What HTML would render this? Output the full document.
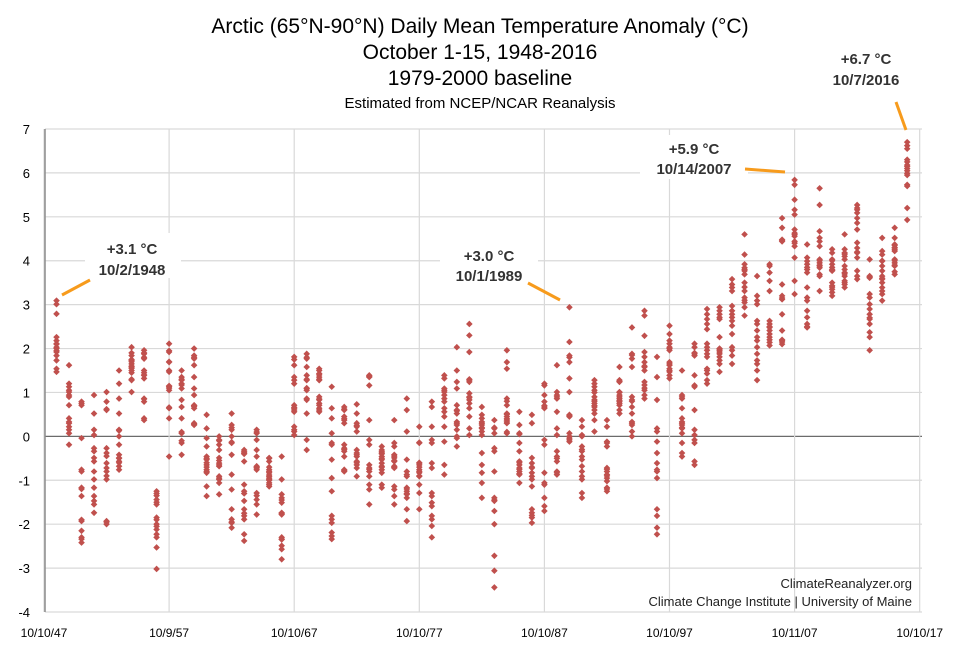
<!DOCTYPE html>
<html><head><meta charset="utf-8">
<style>
html,body{margin:0;padding:0;background:#fff;}
svg{display:block;font-family:"Liberation Sans",Arial,sans-serif;}
</style></head>
<body>
<svg id="chart" width="960" height="653" viewBox="0 0 960 653" xmlns="http://www.w3.org/2000/svg">
<g text-anchor="middle" fill="#000">
<text x="480" y="33" font-size="21">Arctic (65°N-90°N) Daily Mean Temperature Anomaly (°C)</text>
<text x="480" y="59" font-size="21">October 1-15, 1948-2016</text>
<text x="480" y="85" font-size="21">1979-2000 baseline</text>
<text x="480" y="108" font-size="15">Estimated from NCEP/NCAR Reanalysis</text>
</g>
<g id="grid"></g>
<g id="yticks" font-size="13" text-anchor="end" fill="#000"></g>
<g id="xticks" font-size="12" text-anchor="middle" fill="#000"></g>
<g id="points" fill="#c0504d"></g>
<g font-size="15" font-weight="bold" text-anchor="middle" fill="#333">
<g>
<rect x="85" y="233" width="96" height="45" fill="#fff"/>
<text x="132" y="254">+3.1 °C</text><text x="132" y="275">10/2/1948</text>
<line x1="62" y1="295" x2="90" y2="280" stroke="#f79b1c" stroke-width="3"/>
</g>
<g>
<rect x="440" y="241" width="98" height="45" fill="#fff"/>
<text x="489" y="261">+3.0 °C</text><text x="489" y="281">10/1/1989</text>
<line x1="528" y1="283" x2="560" y2="300" stroke="#f79b1c" stroke-width="3"/>
</g>
<g>
<rect x="640" y="135" width="108" height="44" fill="#fff"/>
<text x="694" y="154">+5.9 °C</text><text x="694" y="174">10/14/2007</text>
<line x1="745" y1="169" x2="785" y2="172" stroke="#f79b1c" stroke-width="3"/>
</g>
<g>
<rect x="820" y="45" width="92" height="44" fill="#fff"/>
<text x="866" y="64">+6.7 °C</text><text x="866" y="85">10/7/2016</text>
<line x1="896" y1="102" x2="906" y2="130" stroke="#f79b1c" stroke-width="3"/>
</g>
</g>
<g font-size="13" text-anchor="end" fill="#222">
<text x="912" y="588">ClimateReanalyzer.org</text>
<text x="912" y="606">Climate Change Institute | University of Maine</text>
</g>
</svg>
<script>
const firstYear = 1948;
const yTicks = [7,6,5,4,3,2,1,0,-1,-2,-3,-4];
const xTickYears = [1947,1957,1967,1977,1987,1997,2007,2017];
const xTickLabels = ["10/10/47","10/9/57","10/10/67","10/10/77","10/10/87","10/10/97","10/11/07","10/10/17"];
const anomalies = [
[3.09,3.01,2.79,2.26,2.18,2.11,2.03,2.0,1.92,1.84,1.73,1.54,1.47,2.1,1.95],
[1.62,1.2,1.13,1.01,0.94,0.71,0.41,0.33,0.22,0.07,-0.19,0.9,0.3,1.05,0.15],
[0.79,0.71,-0.04,-0.76,-1.17,-1.36,-1.93,-2.15,-2.34,-2.42,0.75,-1.2,-1.9,-2.3,-0.8],
[0.94,0.52,0.15,0.03,-0.27,-0.34,-0.49,-0.57,-0.8,-0.98,-1.17,-1.36,-1.47,-1.55,-1.74],
[1.01,0.79,0.6,-0.27,-0.38,-0.61,-0.72,-0.8,-0.98,-1.93,-2.0,-0.45,-0.9,-1.95,0.62],
[1.5,1.2,0.86,0.52,0.15,0.0,-0.19,-0.42,-0.49,-0.57,-0.68,-0.76,-0.6,-0.5,0.13],
[2.03,1.84,1.73,1.65,1.58,1.5,1.28,1.01,1.6,1.7,1.55,1.9,1.45,1.3,1.75],
[1.96,1.88,1.77,1.5,1.39,1.32,0.86,0.79,0.41,0.37,1.45,1.8,1.9,0.85,1.4],
[-1.25,-1.44,-1.55,-1.85,-2.0,-2.12,-2.23,-2.53,-3.02,-1.3,-1.5,-1.9,-2.05,-2.3,-1.35],
[2.11,1.92,1.69,1.47,1.13,1.05,0.64,0.41,-0.46,1.5,1.1,0.66,1.7,1.95,1.15],
[1.5,1.35,1.28,1.17,1.09,0.83,0.67,0.41,0.07,-0.15,-0.42,1.3,1.2,0.1,-0.1],
[2.0,1.84,1.77,1.62,1.35,1.09,0.94,0.71,0.64,0.3,0.26,1.8,0.7,0.68,0.28],
[0.49,0.18,-0.04,-0.23,-0.46,-0.53,-0.65,-0.76,-0.83,-1.14,-1.36,-0.5,-0.6,-0.7,-0.8],
[0.0,-0.08,-0.19,-0.31,-0.49,-0.61,-0.68,-0.91,-0.98,-1.06,-1.32,-0.55,-0.65,-0.95,-0.1],
[0.52,0.26,0.15,0.0,-0.15,-0.42,-0.87,-1.21,-1.66,-1.89,-1.97,-2.08,0.2,-0.13,-1.95],
[-0.31,-0.38,-0.57,-1.1,-1.25,-1.47,-1.66,-1.81,-1.89,-2.23,-2.38,-0.35,-0.4,-1.3,-1.75],
[0.15,0.07,-0.08,-0.31,-0.46,-0.68,-0.76,-1.29,-1.44,-1.55,-1.78,0.1,-0.7,-1.35,-0.72],
[-0.49,-0.57,-0.76,-0.83,-0.91,-0.98,-1.06,-1.14,-0.5,-0.8,-0.88,-0.95,-1.0,-1.1,-0.7],
[-0.46,-0.98,-1.32,-1.4,-1.51,-1.74,-1.78,-2.3,-2.34,-2.49,-2.57,-2.8,-1.45,-1.76,-2.35],
[1.81,1.62,1.35,1.28,1.2,0.71,0.64,0.56,0.22,0.11,0.03,1.75,0.6,0.66,0.15],
[1.88,1.77,1.58,1.39,1.28,1.09,1.05,0.86,0.83,0.52,-0.08,-0.31,1.8,1.1,1.3],
[1.54,1.43,1.35,1.28,0.9,0.83,0.71,0.64,0.56,1.5,1.4,0.85,0.75,0.6,1.3],
[1.13,0.64,0.41,0.07,-0.15,-0.19,-0.53,-0.95,-1.25,-1.81,-1.89,-1.97,-2.19,-2.27,-2.34],
[0.67,0.6,0.45,0.37,0.3,-0.19,-0.27,-0.34,-0.46,-0.76,-0.8,0.62,0.4,-0.3,-0.78],
[0.73,0.52,0.3,0.22,0.11,-0.31,-0.38,-0.46,-0.57,-0.65,-0.72,-0.91,0.25,-0.42,-0.6],
[1.39,1.35,1.16,0.37,-0.08,-0.19,-0.65,-0.72,-0.8,-0.91,-1.1,-1.21,-1.55,1.37,-0.75],
[-0.23,-0.31,-0.38,-0.46,-0.53,-0.61,-0.68,-0.76,-0.83,-1.1,-1.17,-0.35,-0.5,-0.7,-0.4],
[0.37,-0.15,-0.23,-0.42,-0.49,-0.57,-0.68,-0.72,-1.14,-1.21,-1.36,-1.55,-0.45,-0.55,-0.7],
[0.86,0.6,0.11,-0.53,-0.8,-0.87,-0.91,-1.17,-1.25,-1.32,-1.4,-1.66,-1.93,-1.2,-1.3],
[0.22,-0.15,-0.61,-0.65,-0.76,-0.83,-0.91,-1.1,-1.29,-1.66,-0.6,-0.8,-0.7,-0.9,-0.14],
[0.79,0.67,0.22,-0.08,-0.15,-0.61,-0.72,-1.29,-1.36,-1.51,-1.59,-1.81,-1.89,-2.04,-2.3],
[1.39,1.32,1.09,1.01,0.94,0.86,0.79,0.64,0.56,0.45,0.22,-0.12,-0.65,-0.87,1.05],
[2.03,1.5,1.24,1.09,0.71,0.6,0.52,0.33,0.26,0.15,-0.04,-0.23,0.58,0.3,0.0],
[2.56,2.3,1.92,1.28,1.24,0.98,0.9,0.83,0.64,0.45,0.18,0.03,1.3,0.88,0.75],
[0.67,0.49,0.41,0.33,0.26,0.18,0.11,0.03,-0.38,-0.65,-0.83,-1.06,-1.4,0.3,0.2],
[0.37,0.18,0.07,-0.27,-0.34,-0.8,-1.4,-1.47,-1.7,-2.0,-2.72,-3.06,-3.44,0.2,-1.45],
[1.96,1.69,1.54,0.86,0.71,0.52,0.45,0.37,0.3,0.07,0.8,0.5,0.4,0.33,0.1],
[0.56,0.26,0.07,-0.15,-0.34,-0.57,-0.65,-0.72,-0.8,-0.87,-1.06,0.05,-0.6,-0.75,-0.85],
[0.49,0.3,-0.49,-0.61,-0.72,-0.83,-0.91,-0.98,-1.14,-1.66,-1.74,-1.85,-1.97,-0.7,-1.8],
[1.2,1.16,0.94,0.79,0.67,0.64,-0.08,-0.19,-0.83,-1.06,-1.1,-1.4,-1.59,-1.7,0.7],
[1.62,1.01,0.94,0.86,0.56,0.18,0.03,-0.34,-0.46,-0.57,-0.8,-0.87,0.9,-0.5,-0.83],
[2.94,2.15,1.84,1.69,1.32,1.01,0.49,0.45,0.07,-0.04,-0.12,1.8,0.47,0.0,-0.08],
[0.37,0.22,0.03,-0.23,-0.34,-0.46,-0.53,-0.68,-0.8,-0.91,-0.98,-1.29,-1.4,0.0,-0.3],
[1.28,1.2,1.13,1.05,0.9,0.83,0.75,0.67,0.6,0.52,0.37,0.11,1.0,0.8,0.7],
[0.37,0.22,-0.12,-0.23,-0.72,-0.8,-0.87,-0.95,-1.02,-1.17,-1.25,-0.75,-0.9,-1.2,-0.15],
[1.58,1.28,1.24,1.01,0.94,0.86,0.79,0.71,0.52,1.25,1.0,0.9,0.82,0.75,0.6],
[2.48,1.88,1.77,1.58,0.9,0.83,0.67,0.52,0.33,0.26,0.11,0.0,1.85,0.8,0.3],
[2.86,2.75,2.29,1.92,1.81,1.69,1.58,1.5,1.24,1.17,1.05,0.94,0.86,1.6,1.1],
[1.81,1.35,0.83,0.18,0.11,-0.12,-0.38,-0.61,-0.76,-0.8,-0.95,-1.66,-1.81,-2.08,-2.23],
[2.52,2.33,2.18,2.11,2.03,1.96,1.69,1.62,1.54,1.47,1.39,1.32,2.0,1.65,1.5],
[1.5,0.94,0.86,0.64,0.41,0.33,0.26,0.18,0.07,-0.15,-0.38,-0.46,0.9,0.3,0.2],
[2.11,2.03,1.88,1.84,1.39,1.16,1.13,0.6,0.15,0.03,-0.08,-0.15,-0.57,-0.65,1.9],
[2.9,2.78,2.67,2.56,2.44,2.11,2.03,1.96,1.88,1.81,1.54,1.43,1.28,1.2,1.5],
[2.94,2.86,2.78,2.71,2.67,2.26,1.99,1.96,1.92,1.88,1.81,1.73,1.65,1.47,2.0],
[3.58,3.46,3.39,3.31,2.97,2.86,2.78,2.71,2.63,2.52,2.33,2.03,1.96,1.84,1.65],
[4.6,4.14,3.92,3.84,3.77,3.69,3.5,3.31,3.16,3.05,2.94,2.75,3.8,3.4,3.1],
[3.65,3.2,3.09,3.01,2.63,2.56,2.41,2.26,2.18,2.03,1.88,1.73,1.65,1.5,1.28],
[3.92,3.88,3.73,3.54,3.31,2.63,2.56,2.48,2.41,2.33,2.26,2.14,2.07,2.5,2.2],
[4.97,4.75,4.48,4.44,3.46,3.2,3.12,2.78,2.41,2.18,2.1,4.46,3.15,2.15,2.2],
[5.84,5.73,5.39,5.16,5.05,4.71,4.63,4.56,4.44,4.33,4.07,3.54,3.24,4.6,4.4],
[4.37,4.07,3.99,3.92,3.8,3.73,3.39,3.16,3.09,2.86,2.71,2.56,2.48,3.85,2.5],
[5.65,5.27,4.67,4.52,4.44,4.33,4.03,3.95,3.88,3.84,3.69,3.65,3.31,3.9,4.0],
[4.26,4.18,4.03,3.92,3.8,3.77,3.5,3.43,3.35,3.28,3.2,3.85,3.78,3.4,4.0],
[4.6,4.26,4.18,4.1,4.03,3.88,3.8,3.73,3.65,3.54,3.46,3.39,4.15,3.7,3.5],
[5.27,5.16,5.09,4.97,4.86,4.71,4.41,4.29,4.18,4.07,3.77,3.65,3.58,5.2,4.2],
[4.03,3.65,3.61,3.24,3.16,3.01,2.9,2.78,2.67,2.56,2.37,2.26,1.96,3.63,2.7],
[4.52,4.22,4.14,3.99,3.88,3.77,3.65,3.58,3.5,3.39,3.31,3.24,3.09,3.6,4.0],
[4.75,4.52,4.37,4.29,4.22,4.03,3.95,3.88,3.69,4.3,4.25,4.0,3.9,3.75,4.35],
[6.7,6.62,6.55,6.3,6.25,6.18,6.15,6.1,6.05,5.99,5.95,5.73,5.7,5.2,4.93]
];

const NS = "http://www.w3.org/2000/svg";
const L = 45, R = 922, T = 129, B = 612;
function yScale(v){ return T + (7 - v) * (B - T) / 11; }
function xScale(yearFrac){ return 44 + (yearFrac - 1947) * 12.51; }
function mk(tag, attrs, parent){ const e = document.createElementNS(NS, tag); for (const k in attrs) e.setAttribute(k, attrs[k]); parent.appendChild(e); return e; }

const grid = document.getElementById('grid');
yTicks.forEach(v => {
  const y = yScale(v);
  const ln = mk('line', {x1:L, x2:R, y1:y, y2:y, stroke: v===0 ? '#6b6b6b' : '#d9d9d9', 'stroke-width': v===0 ? 1.3 : 1.2}, grid);
  
  
  const t = mk('text', {x:30, y:y+5}, document.getElementById('yticks'));
  t.textContent = String(v);
  
  
});
xTickYears.forEach((yr, i) => {
  const x = xScale(yr);
  const ln = mk('line', {x1:x, x2:x, y1:T, y2:B, stroke:'#d9d9d9', 'stroke-width':1.2}, grid);
  
  
  const t = mk('text', {x:x, y:637}, document.getElementById('xticks'));
  t.textContent = xTickLabels[i];
  
  
});
const ax = mk('line', {x1:L, x2:L, y1:T, y2:B, stroke:'#8c8c8c', 'stroke-width':1.5}, grid);



const pts = document.getElementById('points');
anomalies.forEach((vals, i) => {
  const x = xScale(firstYear + i);
  vals.forEach(v => {
    const y = yScale(v);
    const p = mk('path', {d:`M${x},${y-3.3}L${x+3.3},${y}L${x},${y+3.3}L${x-3.3},${y}Z`}, pts);
    
    
  });
});
</script>
</body></html>
